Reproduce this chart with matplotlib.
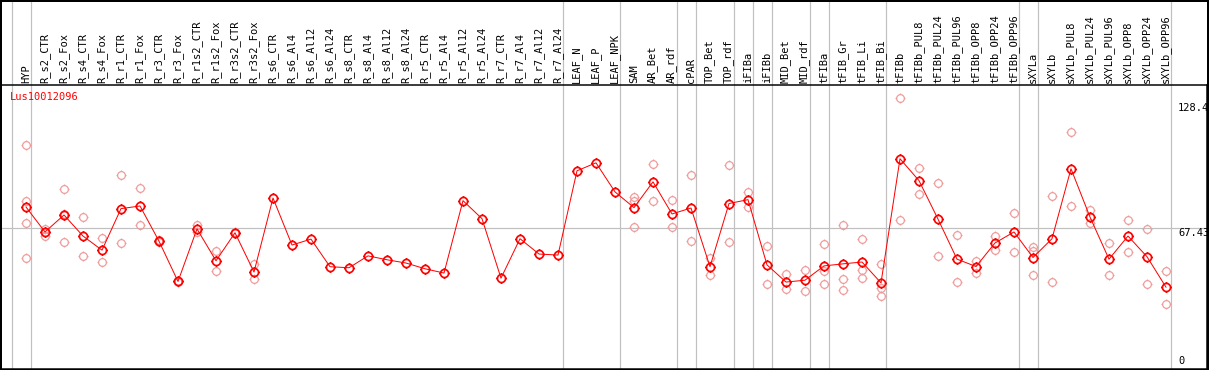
import numpy as np
import matplotlib
matplotlib.use('Agg')
import matplotlib.pyplot as plt
from matplotlib.path import Path
from matplotlib.patches import Rectangle
from matplotlib.transforms import blended_transform_factory

# Column labels, mean values and replicate values
labels = ['HYP', 'R_s2_CTR', 'R_s2_Fox', 'R_s4_CTR', 'R_s4_Fox', 'R_r1_CTR', 'R_r1_Fox',
          'R_r3_CTR', 'R_r3_Fox', 'R_r1s2_CTR', 'R_r1s2_Fox', 'R_r3s2_CTR', 'R_r3s2_Fox',
          'R_s6_CTR', 'R_s6_Al4', 'R_s6_Al12', 'R_s6_Al24', 'R_s8_CTR', 'R_s8_Al4',
          'R_s8_Al12', 'R_s8_Al24', 'R_r5_CTR', 'R_r5_Al4', 'R_r5_Al12', 'R_r5_Al24',
          'R_r7_CTR', 'R_r7_Al4', 'R_r7_Al12', 'R_r7_Al24', 'LEAF_N', 'LEAF_P', 'LEAF_NPK',
          'SAM', 'AR_Bet', 'AR_rdf', 'cPAR', 'TOP_Bet', 'TOP_rdf', 'iFIBa', 'iFIBb',
          'MID_Bet', 'MID_rdf', 'tFIBa', 'tFIB_Gr', 'tFIB_Li', 'tFIB_Bi', 'tFIBb',
          'tFIBb_PUL8', 'tFIBb_PUL24', 'tFIBb_PUL96', 'tFIBb_OPP8', 'tFIBb_OPP24',
          'tFIBb_OPP96', 'sXYLa', 'sXYLb', 'sXYLb_PUL8', 'sXYLb_PUL24', 'sXYLb_PUL96',
          'sXYLb_OPP8', 'sXYLb_OPP24', 'sXYLb_OPP96']

means = [77.7, 65.5, 73.8, 63.5, 56.6, 76.9, 78.2, 61.0, 41.3, 67.0, 51.4, 65.1, 45.9,
         82.1, 59.1, 62.0, 48.5, 48.0, 53.8, 51.9, 50.3, 47.5, 45.4, 80.8, 72.0, 42.9,
         62.2, 54.7, 54.2, 95.4, 99.3, 85.1, 77.4, 90.0, 74.3, 77.2, 48.5, 79.4, 81.3,
         49.4, 41.0, 41.9, 48.9, 49.9, 50.8, 40.6, 101.3, 90.6, 71.8, 52.2, 48.6, 60.1,
         65.5, 53.0, 62.2, 96.4, 72.8, 52.2, 63.5, 53.4, 38.5]

replicates = [
    [107.8, 80.5, 69.9, 52.7], [67.1, 63.7, 65.7], [86.6, 60.6, 74.2], [72.8, 53.8],
    [62.7, 50.8], [93.4, 60.1], [87.0, 68.9], [61.5, 60.5], [41.5, 41.1], [68.9, 65.6],
    [56.2, 46.4], [65.3, 64.9], [49.6, 42.4],
    [], [], [], [], [], [], [], [], [], [], [], [], [], [], [], [], [], [], [],
    [82.5, 80.8, 67.9], [98.8, 80.7], [81.3, 67.9], [93.4, 61.1], [53.0, 44.4],
    [98.0, 60.6], [84.9, 77.7], [58.8, 40.0], [44.9, 37.5], [47.0, 36.5],
    [59.6, 46.3, 40.1], [69.1, 42.6, 37.2], [62.2, 47.0, 42.9], [49.9, 38.0, 34.1],
    [131.2, 71.5], [96.9, 84.1], [89.5, 53.8], [63.8, 40.9], [51.4, 45.4], [63.3, 56.9],
    [74.9, 55.7], [57.9, 56.4, 44.4], [83.1, 40.9], [114.3, 78.2], [76.4, 69.9],
    [60.1, 44.4], [71.4, 55.7], [67.1, 40.1], [46.5, 30.3]]

group_sizes = [1, 28, 3, 3, 1, 2, 1, 1, 2, 1, 3, 7, 1, 7]
gene = 'Lus10012096'
scale_ticks = [128.4, 67.43]
scale_ticks_text = ['128.4', '67.43']

###############################################################################
# layout in pixels
W, H = 1209, 370
ax_left, ax_right, ax_top, ax_bottom = 1, 1207, 85, 369
col0_px, col_step = 26, 19          # pixel x of first column, spacing
y0_px, y_per_unit = 365.9, 2.045    # pixel y of value 0, pixels per unit
PT = 0.72                           # points per pixel at dpi 100

plt.rcParams['font.family'] = 'DejaVu Sans Mono'
fig = plt.figure(figsize=(W / 100, H / 100), dpi=100)
ax = fig.add_axes([ax_left / W, (H - ax_bottom) / H,
                   (ax_right - ax_left) / W, (ax_bottom - ax_top) / H])
ax.set_xlim((ax_left - col0_px) / col_step, (ax_right - col0_px) / col_step)
ax.set_ylim((y0_px - ax_bottom) / y_per_unit, (y0_px - ax_top) / y_per_unit)
ax.set_xticks([])
ax.set_yticks([])
for s in ax.spines.values():
    s.set_linewidth(1.5 * PT)
    s.set_color('black')

# marker: open circle with four small ticks
t = np.linspace(0, 2 * np.pi, 33)
verts = list(zip(np.cos(t), np.sin(t)))
codes = [Path.MOVETO] + [Path.LINETO] * (len(verts) - 1)
tk = 1.3
verts += [(0, 1), (0, tk), (0, -1), (0, -tk), (1, 0), (tk, 0), (-1, 0), (-tk, 0)]
codes += [Path.MOVETO, Path.LINETO] * 4
marker = Path(verts, codes)

x = np.arange(len(labels))
header_frac = (ax_top + 2) / (ax_bottom - ax_top)

# group separators
bounds = [-1] + list(np.cumsum(group_sizes) - 1)
for b in bounds:
    ax.axvline(b + 4.5 / col_step, ymin=0, ymax=1 + header_frac, color='#c0c0c0',
               lw=1.2 * PT, clip_on=False, zorder=1)
ax.axhline(scale_ticks[1], color='#c0c0c0', lw=1.2 * PT, zorder=1)

# replicate points
rx = [i for i, r in enumerate(replicates) for _ in r]
ry = [v for r in replicates for v in r]
ax.plot(rx, ry, ls='none', marker=marker, ms=10.0 * PT, mfc='none', mec='#f09a9a',
        mew=1.2 * PT, zorder=2, clip_on=False)

# mean line
ax.plot(x, means, color='red', lw=1.0 * PT, marker=marker, ms=10.5 * PT, mfc='none',
        mec='red', mew=1.7 * PT, zorder=3)

# header labels
trans = blended_transform_factory(ax.transData, ax.transAxes)
for i, lab in enumerate(labels):
    ax.text(i + 5 / col_step, 1 + 2 / (ax_bottom - ax_top), lab, rotation=90, ha='right',
            va='bottom', fontsize=7.5, transform=trans, clip_on=False)

ax.text(8.5 / (ax_right - ax_left), 1 - 7 / (ax_bottom - ax_top), gene, color='red',
        fontsize=7.5, ha='left', va='top', transform=ax.transAxes)

# value scale on the right
xs = len(labels) - 1 + 12 / col_step
for v, t in zip(scale_ticks, scale_ticks_text):
    ax.text(xs, v, t, fontsize=7.5, ha='left', va='top')
ax.text(xs, 0, '0', fontsize=7.5, ha='left', va='bottom')

# outer frame
fig.patches.append(Rectangle((0.5 / W, 0.5 / H), (W - 2) / W, (H - 1.5) / H,
                             transform=fig.transFigure, fill=False, ec='black',
                             lw=2 * PT))

fig.savefig('out.png', dpi=100)
